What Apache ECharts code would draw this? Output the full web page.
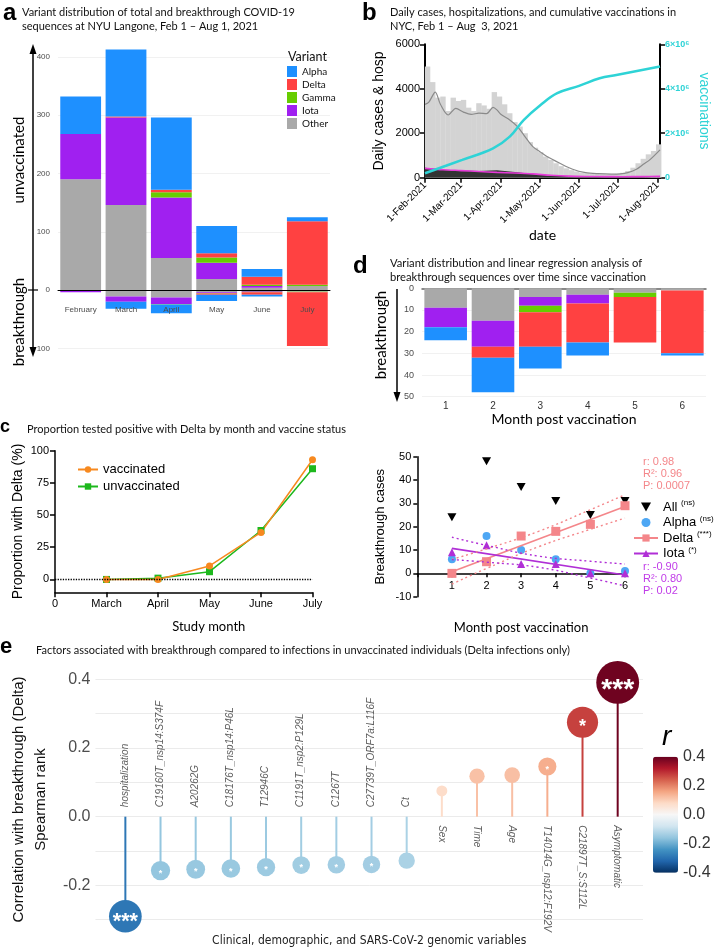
<!DOCTYPE html>
<html>
<head>
<meta charset="utf-8">
<script src="https://cdn.jsdelivr.net/npm/echarts@6/dist/echarts.min.js"></script>
<style>
  html, body { margin: 0; padding: 0; background: #fff; }
  #main { width: 714px; height: 948px; }
</style>
</head>
<body>
<div id="main"></div>
<script>
// ---- panel a: variant counts per month (unvaccinated up, breakthrough down)
const monthsA = ["February", "March", "April", "May", "June", "July"];
const unvAlpha = [64, 115, 124, 47, 13, 7];
const unvDelta = [0, 2, 4, 7, 14, 109];
const unvGamma = [0, 0, 9, 9, 2, 2];
const unvIota = [78, 150, 104, 28, 3, 0];
const unvOther = [190, 146, 55, 19, 4, 7];
const btAlpha = [0, -12, -15, -11, -3, 0];
const btDelta = [0, 0, 0, -2, -4, -92];
const btGamma = [0, 0, -1, -1, -1, -1];
const btIota = [-4, -9, -11, -1, -2, 0];
const btOther = [0, -11, -13, -4, -1, -3];

// ---- panel b: NYC daily cases / hospitalisations / vaccinations (day 0 = 1-Feb-2021)
const monthStartDays = [0, 28, 59, 89, 120, 150, 181];
const monthStartLabels = ["1-Feb-2021", "1-Mar-2021", "1-Apr-2021", "1-May-2021", "1-Jun-2021", "1-Jul-2021", "1-Aug-2021"];
const caseBinDays = [2, 6, 10, 14, 18, 22, 26, 30, 34, 38, 42, 46, 50, 54, 58, 62, 66, 70, 74, 78, 82, 86, 90, 94, 98, 102, 106, 110, 114, 118, 122, 126, 130, 134, 138, 142, 146, 150, 154, 158, 162, 166, 170, 174, 178, 182];
const dailyCases = [5000, 4300, 3600, 3650, 3000, 3600, 3450, 3500, 3150, 3000, 3350, 3250, 3100, 3850, 3650, 3300, 2900, 2500, 2300, 2000, 1600, 1350, 1150, 950, 800, 650, 520, 420, 340, 280, 230, 200, 180, 170, 160, 150, 150, 170, 220, 300, 450, 650, 850, 1050, 1200, 1500];
const avgDays = [0, 3, 8, 12, 18, 24, 30, 36, 42, 48, 53, 56, 59, 66, 72, 77, 84, 90, 95, 105, 115, 125, 135, 145, 152, 158, 165, 170, 175, 183];
const avgCases = [3300, 3400, 3850, 3300, 2820, 3120, 2950, 2850, 2900, 2880, 3160, 3050, 2850, 2600, 2300, 1920, 1400, 1150, 950, 650, 380, 230, 180, 160, 170, 230, 390, 600, 800, 1250];
const hospDays = [0, 14, 28, 42, 56, 70, 84, 98, 112, 126, 140, 154, 168, 183];
const hospDaily = [450, 350, 320, 300, 330, 260, 170, 110, 70, 45, 35, 30, 35, 50];
const hospAvg = [420, 360, 320, 280, 240, 210, 170, 110, 70, 55, 50, 45, 50, 60];
const vaccDays = [0, 29, 53, 66, 77, 90, 103, 120, 136, 149, 183];
const vaccCum = [0.2e6, 0.8e6, 1.32e6, 1.85e6, 2.6e6, 3.27e6, 3.8e6, 4.13e6, 4.47e6, 4.62e6, 5.0e6];

// ---- panel d: breakthrough by month post vaccination
const monthsPost = ["1", "2", "3", "4", "5", "6"];
const bmAlpha = [6, 16, 10, 6, 0, 1];
const bmDelta = [0, 5, 16, 18, 21, 29];
const bmGamma = [0, 0, 3, 0, 2, 0];
const bmIota = [9, 12, 4, 4, 0, 0];
const bmOther = [9, 15, 4, 3, 2, 1];
const bmAll = [24, 48, 37, 31, 25, 31];
const deltaFit = [[1, 0.7], [6, 28.7]];
const deltaUpper = [[1, 6], [2, 10.5], [3.5, 18], [5, 27.3], [6, 33.7]];
const deltaLower = [[1, -4.6], [2, 2.1], [3.5, 11.4], [5, 18.9], [6, 23.7]];
const iotaFit = [[1, 10.7], [6, -0.7]];
const iotaUpper = [[1, 15.5], [2, 12], [3.5, 7.4], [5, 5.2], [6, 4]];
const iotaLower = [[1, 5.9], [2, 4.8], [3.5, 2.6], [5, -2], [6, -5.4]];

// ---- panel c: proportion Delta
const studyMonths = ["0", "March", "April", "May", "June", "July"];
const vaccinatedPct = [0, 0, 10.5, 36.5, 93];
const unvaccinatedPct = [0, 1, 6, 38, 86];

// ---- panel e: spearman correlations
const factorNames = ["hospitalization", "C19160T_nsp14:S374F", "A20262G", "C18176T_nsp14:P46L", "T12946C", "C1191T_nsp2:P129L", "C1267T", "C27739T_ORF7a:L116F", "Ct", "Sex", "Time", "Age", "T14014G_nsp12:F192V", "C21897T_S:S112L", "Asymptomatic"];
const factorR = [-0.29, -0.157, -0.153, -0.151, -0.147, -0.141, -0.14, -0.139, -0.128, 0.075, 0.118, 0.121, 0.146, 0.275, 0.391];
const factorSig = ["***", "*", "*", "*", "*", "*", "*", "*", "", "", "", "", "*", "*", "***"];

const SANS = "Liberation Sans";
const CAL = "Lato";
const variantColors = { Alpha: "#1E90FF", Delta: "#FF4141", Gamma: "#66CD00", Iota: "#A020F0", Other: "#A9A9A9" };
const variantOrder = ["Other", "Iota", "Gamma", "Delta", "Alpha"];
const unvByVariant = { Other: unvOther, Iota: unvIota, Gamma: unvGamma, Delta: unvDelta, Alpha: unvAlpha };
const btByVariant = { Other: btOther, Iota: btIota, Gamma: btGamma, Delta: btDelta, Alpha: btAlpha };
const bmByVariant = { Other: bmOther, Iota: bmIota, Gamma: bmGamma, Delta: bmDelta, Alpha: bmAlpha };
const pair = (xs, ys) => xs.map((x, i) => [x, ys[i]]);

const chart = echarts.init(document.getElementById("main"));
const series = [];

// panel a bars
variantOrder.forEach((v) => {
  series.push({ name: v, type: "bar", xAxisIndex: 0, yAxisIndex: 0, stack: "a", data: unvByVariant[v],
    barCategoryGap: "10%", clip: false, itemStyle: { color: variantColors[v] } });
  series.push({ name: v, type: "bar", xAxisIndex: 0, yAxisIndex: 0, stack: "a", data: btByVariant[v],
    barCategoryGap: "10%", clip: false, itemStyle: { color: variantColors[v] } });
});

// panel b
series.push({ name: "cases", type: "bar", xAxisIndex: 1, yAxisIndex: 1, barWidth: 5.4,
  data: pair(caseBinDays, dailyCases), itemStyle: { color: "#d3d3d3" } });
series.push({ name: "hosp", type: "line", xAxisIndex: 1, yAxisIndex: 1, symbol: "none",
  data: pair(hospDays, hospDaily), lineStyle: { width: 0 }, areaStyle: { color: "#333", opacity: 1 } });
series.push({ name: "cases avg", type: "line", xAxisIndex: 1, yAxisIndex: 1, symbol: "none", smooth: 0.3,
  data: pair(avgDays, avgCases), lineStyle: { color: "#8a8a8a", width: 1.2 } });
series.push({ name: "hosp avg", type: "line", xAxisIndex: 1, yAxisIndex: 1, symbol: "none", smooth: 0.3,
  data: pair(hospDays, hospAvg), lineStyle: { color: "#e63ad8", width: 1.6 } });
series.push({ name: "vaccinations", type: "line", xAxisIndex: 1, yAxisIndex: 2, symbol: "none", smooth: 0.4,
  data: pair(vaccDays, vaccCum), lineStyle: { color: "#2ED3D6", width: 2.5 } });

// panel d top bars
variantOrder.forEach((v) => {
  series.push({ name: v, type: "bar", xAxisIndex: 2, yAxisIndex: 3, stack: "d", data: bmByVariant[v],
    barCategoryGap: "10%", itemStyle: { color: variantColors[v] } });
});

// panel c
series.push({ name: "unvaccinated", type: "line", xAxisIndex: 4, yAxisIndex: 4, symbol: "rect", symbolSize: 7,
  data: pair([1, 2, 3, 4, 5], unvaccinatedPct), itemStyle: { color: "#1DB81D" }, lineStyle: { color: "#1DB81D", width: 1.5 } });
series.push({ name: "vaccinated", type: "line", xAxisIndex: 4, yAxisIndex: 4, symbol: "circle", symbolSize: 7,
  data: pair([1, 2, 3, 4, 5], vaccinatedPct), itemStyle: { color: "#F7891F" }, lineStyle: { color: "#F7891F", width: 1.5 },
  markLine: { silent: true, symbol: "none", label: { show: false }, data: [{ yAxis: 0 }],
    lineStyle: { type: "dotted", color: "#000", width: 1.3 } } });

// panel d bottom (regression)
const salmon = "#F4868A", purple = "#B02FD6";
series.push({ name: "Delta (***)", type: "line", xAxisIndex: 5, yAxisIndex: 5, data: deltaFit, symbol: "rect", showSymbol: false,
  itemStyle: { color: salmon }, lineStyle: { color: salmon, width: 1.6 } });
series.push({ name: "Iota (*)", type: "line", xAxisIndex: 5, yAxisIndex: 5, data: iotaFit, symbol: "triangle", showSymbol: false,
  itemStyle: { color: purple }, lineStyle: { color: purple, width: 1.6 } });
[[deltaUpper, salmon], [deltaLower, salmon], [iotaUpper, purple], [iotaLower, purple]].forEach(([d, c]) => {
  series.push({ name: "ci", type: "line", xAxisIndex: 5, yAxisIndex: 5, data: d, symbol: "none", smooth: true,
    lineStyle: { color: c, width: 1.4, type: [2, 3] } });
});
series.push({ name: "All (ns)", type: "scatter", xAxisIndex: 5, yAxisIndex: 5, symbol: "path://M0,0L10,0L5,9Z", symbolSize: [9, 8],
  data: pair([1, 2, 3, 4, 5, 6], bmAll), itemStyle: { color: "#000", opacity: 1 } });
series.push({ name: "Alpha (ns)", type: "scatter", xAxisIndex: 5, yAxisIndex: 5, symbol: "circle", symbolSize: 8,
  data: pair([1, 2, 3, 4, 5, 6], bmAlpha), itemStyle: { color: "#4EA7F4", opacity: 1 } });
series.push({ name: "Delta (***)", type: "scatter", xAxisIndex: 5, yAxisIndex: 5, symbol: "rect", symbolSize: 9,
  data: pair([1, 2, 3, 4, 5, 6], bmDelta), itemStyle: { color: salmon, opacity: 1 } });
series.push({ name: "Iota (*)", type: "scatter", xAxisIndex: 5, yAxisIndex: 5, symbol: "triangle", symbolSize: 8,
  data: pair([1, 2, 3, 4, 5, 6], bmIota), itemStyle: { color: purple, opacity: 1 } });

// panel e lollipops
const stemIndex = series.length;
series.push({ name: "stems", type: "bar", xAxisIndex: 6, yAxisIndex: 6, barWidth: 2,
  data: factorR.map((r, i) => [i, r]) });
const dotIndex = series.length;
const dotSize = (r) => 3.4 + 101 * Math.abs(r);
series.push({ name: "dots", type: "scatter", xAxisIndex: 6, yAxisIndex: 6, clip: false,
  symbolSize: (val) => dotSize(val[1]), itemStyle: { opacity: 1 },
  data: factorR.map((r, i) => {
    const s = factorSig[i];
    const d = dotSize(r);
    const fs = s === "***" ? d * 0.66 : (d > 25 ? 18 : 9);
    return { value: [i, r], label: { show: s !== "", formatter: s, fontSize: fs, color: "#fff",
      fontWeight: "bold", position: "inside", offset: [0, fs * 0.28] } };
  }) });
series.push({ name: "names", type: "scatter", xAxisIndex: 6, yAxisIndex: 6, symbolSize: 1, silent: true,
  itemStyle: { color: "transparent" },
  label: { show: true, fontSize: 10, fontStyle: "italic", color: "#333", fontFamily: SANS,
    align: "left", verticalAlign: "middle", formatter: (p) => factorNames[p.dataIndex] },
  data: factorNames.map((n, i) => ({ value: [i, 0],
    label: factorR[i] < 0 ? { position: [0, -9], rotate: 90 } : { position: [0, 9], rotate: -90 } })) });

const ttl = (text, left, top, fontSize, extra) => Object.assign({ text, left, top, padding: 0,
  textStyle: Object.assign({ fontSize, fontFamily: CAL, fontWeight: "normal", color: "#111", lineHeight: 14 }, extra || {}) });
const letter = (text, left, top, size) => ({ text, left, top, padding: 0,
  textStyle: { fontSize: size, fontFamily: SANS, fontWeight: "bold", color: "#000" } });

const option = {
  animation: false,
  textStyle: { fontFamily: SANS },
  title: [
    letter("a", 3, 1, 24),
    ttl("Variant distribution of total and breakthrough COVID-19\nsequences at NYU Langone, Feb 1 \u2013 Aug 1, 2021", 22, 5, 11),
    letter("b", 362, 1, 24),
    ttl("Daily cases, hospitalizations, and cumulative vaccinations in\nNYC, Feb 1 \u2013 Aug  3, 2021", 390, 5, 11),
    letter("d", 353, 254, 24),
    ttl("Variant distribution and linear regression analysis of\nbreakthrough sequences over time since vaccination", 390, 256, 11.2),
    letter("c", 0, 418, 18),
    ttl("Proportion tested positive with Delta by month and vaccine status", 27, 422, 11),
    letter("e", 0, 636, 22),
    ttl("Factors associated with breakthrough compared to infections in unvaccinated individuals (Delta infections only)", 36, 643, 11),
    ttl("Variant", 288, 50, 12.5),
    ttl("r: 0.98\nR\u00b2: 0.96\nP: 0.0007", 643, 456, 11, { color: salmon, fontFamily: SANS, lineHeight: 12 }),
    ttl("r: -0.90\nR\u00b2: 0.80\nP: 0.02", 643, 561, 11, { color: "#C03BE8", fontFamily: SANS, lineHeight: 12 }),
    ttl("r", 662, 722, 28, { fontStyle: "italic", fontFamily: SANS, color: "#000", lineHeight: 30 })
  ],
  legend: [
    { data: ["Alpha", "Delta", "Gamma", "Iota", "Other"], orient: "vertical", left: 287, top: 66, padding: 0,
      itemGap: 2, itemWidth: 10, itemHeight: 11, icon: "rect", selectedMode: false,
      textStyle: { fontSize: 10, fontFamily: CAL, color: "#111", lineHeight: 11 } },
    { data: ["vaccinated", "unvaccinated"], orient: "vertical", left: 77, top: 463, padding: 0,
      itemGap: 4, itemWidth: 20, itemHeight: 8, selectedMode: false,
      textStyle: { fontSize: 13, fontFamily: SANS, color: "#000" } },
    { data: [{ name: "All (ns)", icon: "path://M0,0L10,0L5,9Z" }, { name: "Alpha (ns)", icon: "circle" }, "Delta (***)", "Iota (*)"],
      orient: "vertical", left: 633, top: 499, padding: 0, itemGap: 1, itemWidth: 24, itemHeight: 9, selectedMode: false,
      formatter: (name) => {
        const k = name.indexOf(" (");
        return "{n|" + name.slice(0, k) + "} {s|" + name.slice(k + 1) + "}";
      },
      textStyle: { fontSize: 13, color: "#000", lineHeight: 12,
        rich: { n: { fontSize: 13, fontFamily: SANS, lineHeight: 12 }, s: { fontSize: 8, fontFamily: SANS, padding: [0, 0, 8, 0] } } } }
  ],
  grid: [
    { left: 58, top: 57, width: 272, height: 291.3 },
    { left: 425, top: 44.3, width: 235, height: 133.4 },
    { left: 422, top: 288.3, width: 284, height: 108.4 },
    { left: 55, top: 450.7, width: 257.5, height: 141.6 },
    { left: 417.3, top: 456.7, width: 207.7, height: 140 },
    { left: 82, top: 679.3, width: 561, height: 240.4 },
    { left: 653, top: 756.7, width: 25, height: 116 }
  ],
  xAxis: [
    { gridIndex: 0, type: "category", data: monthsA, z: 10,
      axisLine: { onZero: true, lineStyle: { color: "#000", width: 1 } }, axisTick: { show: false },
      axisLabel: { interval: 0, fontSize: 8, color: "#4d4d4d", margin: -43 } },
    { gridIndex: 1, type: "value", min: 0, max: 183,
      axisLine: { onZero: false, lineStyle: { color: "#000", width: 2 } },
      axisTick: { show: true, length: 5, customValues: monthStartDays, lineStyle: { color: "#000", width: 1.5 } },
      axisLabel: { customValues: monthStartDays, rotate: 45, fontSize: 10, color: "#000", margin: 6,
        formatter: (v) => { const k = monthStartDays.indexOf(Math.round(v)); return k >= 0 ? monthStartLabels[k] : ""; } },
      splitLine: { show: false },
      name: "date", nameLocation: "middle", nameGap: 49, nameTextStyle: { fontSize: 14, fontFamily: CAL, color: "#000" } },
    { gridIndex: 2, type: "category", data: monthsPost, position: "bottom",
      axisLine: { show: false }, axisTick: { show: false },
      axisLabel: { fontSize: 10, color: "#333", margin: 5 },
      name: "Month post vaccination", nameLocation: "middle", nameGap: 15,
      nameTextStyle: { fontSize: 14, fontFamily: CAL, color: "#000" } },
    { gridIndex: 2, type: "category", data: monthsPost, position: "top",
      axisLine: { show: true, lineStyle: { color: "#666", width: 1.5 } }, axisTick: { show: false }, axisLabel: { show: false } },
    { gridIndex: 3, type: "value", min: 0, max: 5, interval: 1,
      axisLine: { onZero: false, lineStyle: { color: "#000", width: 1.5 } },
      axisTick: { length: 5, lineStyle: { color: "#000", width: 1.5 } },
      axisLabel: { fontSize: 11, color: "#000", margin: 6, formatter: (v) => studyMonths[v] },
      splitLine: { show: false },
      name: "Study month", nameLocation: "middle", nameGap: 28,
      nameTextStyle: { fontSize: 13, fontFamily: CAL, color: "#000", padding: [0, 0, 0, 50] } },
    { gridIndex: 4, type: "value", min: 0, max: 6, interval: 1,
      axisLine: { onZero: true, lineStyle: { color: "#000", width: 1.5 } },
      axisTick: { length: 4, lineStyle: { color: "#000", width: 1.5 } },
      axisLabel: { fontSize: 11, color: "#000", margin: -16, formatter: (v) => (v === 0 ? "" : String(v)) },
      splitLine: { show: false },
      name: "Month post vaccination", nameLocation: "middle", nameGap: 25,
      nameTextStyle: { fontSize: 13, fontFamily: CAL, color: "#000" } },
    { gridIndex: 5, type: "value", min: -0.85, max: 14.72,
      axisLine: { show: false }, axisTick: { show: false }, axisLabel: { show: false }, splitLine: { show: false },
      name: "Clinical, demographic, and SARS-CoV-2 genomic variables", nameLocation: "middle", nameGap: 15,
      nameTextStyle: { fontSize: 12, color: "#222", fontFamily: "'Liberation Sans Narrow', 'DejaVu Sans Condensed', sans-serif" } },
    { gridIndex: 6, type: "value", show: false, min: 0, max: 1 }
  ],
  yAxis: [
    { gridIndex: 0, type: "value", min: -100, max: 400, interval: 100,
      axisLine: { show: false }, axisTick: { show: false },
      axisLabel: { fontSize: 8, color: "#4d4d4d", margin: 8, formatter: (v) => String(Math.abs(v)) },
      splitLine: { lineStyle: { color: "#f1f1f1" } } },
    { gridIndex: 1, type: "value", min: 0, max: 6000, interval: 2000,
      axisLine: { show: true, lineStyle: { color: "#000", width: 2 } },
      axisTick: { show: true, length: 5, lineStyle: { color: "#000", width: 1.5 } },
      axisLabel: { fontSize: 11, color: "#000", margin: 5, formatter: (v) => String(v) }, splitLine: { show: false },
      name: "Daily cases & hosp", nameLocation: "middle", nameGap: 39,
      nameTextStyle: { fontSize: 14, fontFamily: SANS, color: "#000" } },
    { gridIndex: 1, type: "value", position: "right", min: 0, max: 6e6, interval: 2e6,
      axisLine: { show: true, lineStyle: { color: "#000", width: 2 } },
      axisTick: { show: true, length: 5, lineStyle: { color: "#000", width: 1.5 } },
      axisLabel: { fontSize: 9, fontWeight: "bold", color: "#2ED3D6", margin: 5,
        formatter: (v) => (v === 0 ? "0" : (v / 1e6) + "\u00d710\u2076") },
      splitLine: { show: false },
      name: "vaccinations", nameLocation: "middle", nameRotate: -90, nameGap: 37,
      nameTextStyle: { fontSize: 14, fontFamily: SANS, color: "#2ED3D6" } },
    { gridIndex: 2, type: "value", inverse: true, min: 0, max: 50, interval: 10,
      axisLine: { show: false }, axisTick: { show: false },
      axisLabel: { fontSize: 9, color: "#4d4d4d", margin: 8 },
      splitLine: { lineStyle: { color: "#f1f1f1" } } },
    { gridIndex: 3, type: "value", min: -10, max: 100,
      axisLine: { show: true, lineStyle: { color: "#000", width: 1.5 } },
      axisTick: { show: true, length: 5, customValues: [0, 25, 50, 75, 100], lineStyle: { color: "#000", width: 1.5 } },
      axisLabel: { fontSize: 11, color: "#000", margin: 6, customValues: [0, 25, 50, 75, 100] },
      splitLine: { show: false },
      name: "Proportion with Delta (%)", nameLocation: "middle", nameGap: 30,
      nameTextStyle: { fontSize: 14, fontFamily: SANS, color: "#000" } },
    { gridIndex: 4, type: "value", min: -10, max: 50, interval: 10,
      axisLine: { show: true, lineStyle: { color: "#000", width: 1.5 } },
      axisTick: { show: true, length: 4, lineStyle: { color: "#000", width: 1.5 } },
      axisLabel: { fontSize: 11, color: "#000", margin: 6 },
      splitLine: { show: false },
      name: "Breakthrough cases", nameLocation: "middle", nameGap: 30,
      nameTextStyle: { fontSize: 13, fontFamily: SANS, color: "#000" } },
    { gridIndex: 5, type: "value", min: -0.3, max: 0.4, interval: 0.1,
      axisLine: { show: false }, axisTick: { show: false },
      axisLabel: { fontSize: 16, color: "#4d4d4d", margin: 5,
        formatter: (v) => { const t = Math.round(v * 10); return t % 2 === 0 ? (t / 10).toFixed(1) : ""; } },
      splitLine: { lineStyle: { color: "#ebebeb" } },
      name: "Correlation with breakthrough (Delta)\nSpearman rank", nameLocation: "middle", nameGap: 31,
      nameTextStyle: { fontSize: 15, lineHeight: 22, color: "#111", fontFamily: SANS } },
    { gridIndex: 6, type: "value", position: "right", min: -0.4, max: 0.4, interval: 0.2,
      axisLine: { show: false }, axisTick: { show: false }, splitLine: { show: false },
      axisLabel: { fontSize: 16, color: "#333", margin: 5,
        formatter: (v) => (Math.round(v * 10) / 10).toFixed(1) } }
  ],
  visualMap: [{
    type: "continuous", min: -0.4, max: 0.4, dimension: 1, seriesIndex: [stemIndex, dotIndex],
    left: 653, top: 756.7, itemWidth: 25, itemHeight: 116, padding: 0, calculable: false, hoverLink: false,
    inRange: { color: ["#053061", "#2166ac", "#4393c3", "#92c5de", "#d1e5f0", "#f7f7f7", "#fddbc7", "#f4a582", "#d6604d", "#b2182b", "#67001f"] }
  }],
  graphic: [
    { type: "line", shape: { x1: 33, y1: 52, x2: 33, y2: 349 }, style: { stroke: "#000", lineWidth: 1.5 } },
    { type: "polygon", shape: { points: [[33, 44], [29.5, 54], [36.5, 54]] }, style: { fill: "#000" } },
    { type: "polygon", shape: { points: [[33, 357], [29.5, 347], [36.5, 347]] }, style: { fill: "#000" } },
    { type: "line", shape: { x1: 28, y1: 290, x2: 38, y2: 290 }, style: { stroke: "#000", lineWidth: 1.2 } },
    { type: "text", x: 19, y: 160, rotation: Math.PI / 2,
      style: { text: "unvaccinated", fontSize: 15, fontFamily: CAL, fill: "#000", align: "center", verticalAlign: "middle", textAlign: "center", textVerticalAlign: "middle" } },
    { type: "text", x: 19, y: 322, rotation: Math.PI / 2,
      style: { text: "breakthrough", fontSize: 15, fontFamily: CAL, fill: "#000", align: "center", verticalAlign: "middle", textAlign: "center", textVerticalAlign: "middle" } },
    { type: "line", shape: { x1: 397, y1: 289, x2: 397, y2: 394 }, style: { stroke: "#000", lineWidth: 1.5 } },
    { type: "polygon", shape: { points: [[397, 402], [393.5, 392], [400.5, 392]] }, style: { fill: "#000" } },
    { type: "text", x: 381, y: 335, rotation: Math.PI / 2,
      style: { text: "breakthrough", fontSize: 15, fontFamily: CAL, fill: "#000", align: "center", verticalAlign: "middle", textAlign: "center", textVerticalAlign: "middle" } }
  ],
  series
};

chart.setOption(option);
</script>
</body>
</html>
